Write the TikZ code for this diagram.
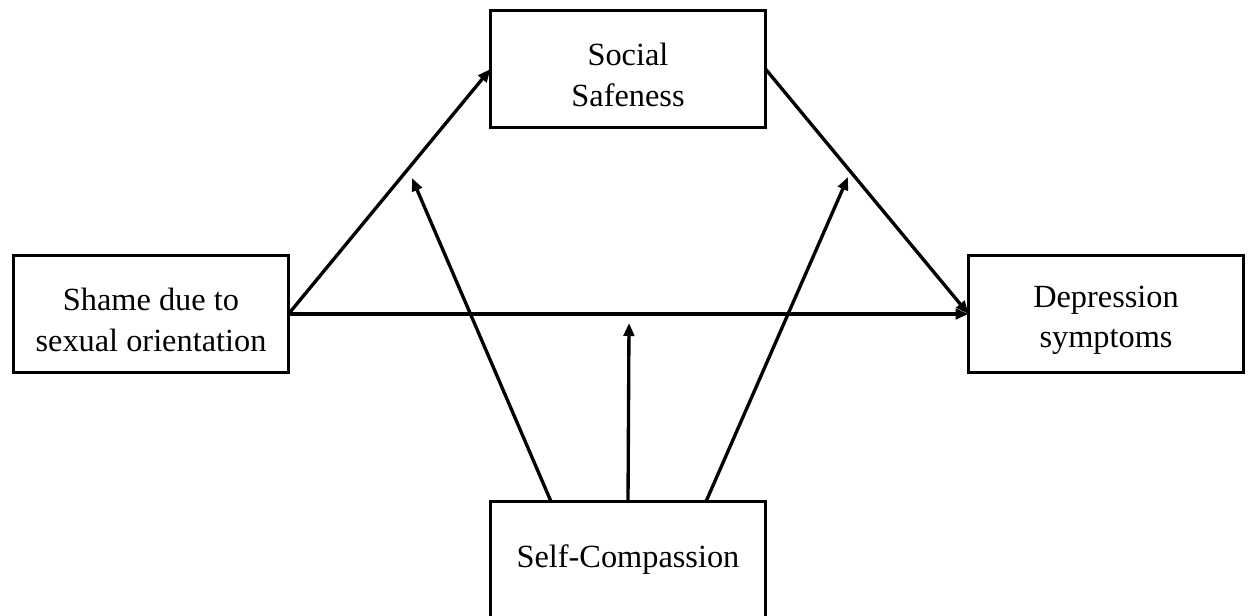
\documentclass[tikz,border=0pt]{standalone}
\usepackage{fontspec}
\setmainfont{Liberation Serif}
\usetikzlibrary{arrows.meta, positioning, calc}

\begin{document}
\begin{tikzpicture}[
    >={Triangle[length=0.26cm, width=0.21cm]}, line width=1.9pt,
    var/.style={draw, rectangle, outer sep=0pt, align=center,
                minimum width=5.5cm, minimum height=2.34cm,
                font=\fontsize{18.4}{23}\selectfont}
  ]
  \useasboundingbox (0,0) rectangle (24.98,-12.3);

  \node[var] (shame) at (3.02,-6.28) {\rule{0pt}{0.68cm}Shame due to\\sexual orientation};
  \node[var, above right=2.56cm and 4.04cm of shame] (social) {\rule{0pt}{0.68cm}Social\\Safeness};
  \node[var, right=13.6cm of shame] (depr) {\rule{0pt}{0.68cm}Depression\\symptoms};
  \node[var, below right=2.58cm and 4.04cm of shame] (selfc) {Self-Compassion};

  % moderation targets
  \coordinate (m1) at (8.24,-3.56);
  \coordinate (m2) at (12.58,-6.46);
  \coordinate (m3) at (16.96,-3.54);

  \draw[->] (shame.east) -- (social.west);
  \draw[->] (social.east) -- (depr.west);
  \draw[->] (shame.east) -- (depr.west);
  \draw[->] ([xshift=-1.54cm]selfc.north) -- (m1);
  \draw[->] (selfc.north) -- (m2);
  \draw[->] ([xshift=1.56cm]selfc.north) -- (m3);
\end{tikzpicture}
\end{document}
